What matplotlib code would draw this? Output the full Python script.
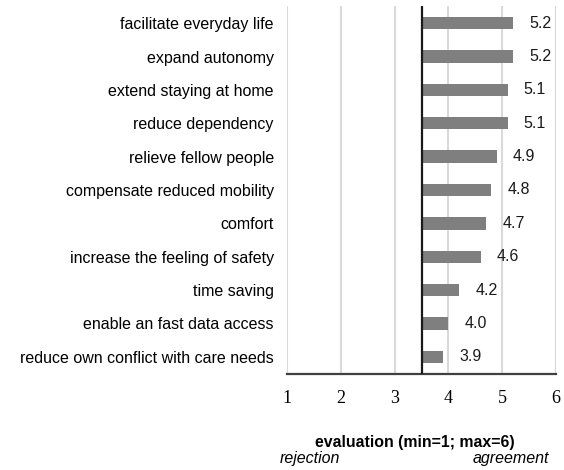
import matplotlib
matplotlib.use("Agg")
import matplotlib.pyplot as plt

# survey items, top to bottom
items = ["facilitate everyday life", "expand autonomy", "extend staying at home",
         "reduce dependency", "relieve fellow people", "compensate reduced mobility",
         "comfort", "increase the feeling of safety", "time saving",
         "enable an fast data access", "reduce own conflict with care needs"]
means = [5.2, 5.2, 5.1, 5.1, 4.9, 4.8, 4.7, 4.6, 4.2, 4.0, 3.9]
ticks = [1, 2, 3, 4, 5, 6]
center = 3.5

fig = plt.figure(figsize=(5.64, 4.70), dpi=100)
ax = fig.add_axes([0.5089, 0.2053, 0.4769, 0.7809])

ypos = list(range(len(items)))[::-1]
widths = [m - center for m in means]
ax.barh(ypos, widths, left=center, height=0.37, color="#7f7f7f", zorder=3)

for y, m in zip(ypos, means):
    ax.text(m + 0.3, y, f"{m:.1f}", va="center", ha="left",
            fontsize=11.5, family="Liberation Sans", color="#1a1a1a")

ax.set_xlim(1, 6)
ax.set_ylim(-0.5, len(items) - 0.5)
ax.set_xticks(ticks)
ax.set_xticklabels([str(t) for t in ticks], family="Liberation Serif", fontsize=13)
ax.set_yticks(ypos)
ax.set_yticklabels(items, family="Liberation Sans", fontsize=11.5)
ax.tick_params(axis="both", length=0)
ax.tick_params(axis="x", pad=12)
ax.tick_params(axis="y", pad=9.5)

for t in ticks:
    ax.axvline(t, color="#d9d9d9", lw=1.5, zorder=1)
ax.axvline(center, color="#1a1a1a", lw=1.6, zorder=4)

for s in ["top", "right", "left"]:
    ax.spines[s].set_visible(False)
ax.spines["bottom"].set_color("#404040")
ax.spines["bottom"].set_linewidth(1.6)

fig.text(415 / 564, 1 - 442 / 470, "evaluation (min=1; max=6)", ha="center", va="center",
         fontsize=11.4, fontweight="bold", family="Liberation Sans")
fig.text(280 / 564, 1 - 459 / 470, "rejection", ha="left", va="center",
         fontsize=11.5, style="italic", family="Liberation Sans")
fig.text(549 / 564, 1 - 459 / 470, "agreement", ha="right", va="center",
         fontsize=11.5, style="italic", family="Liberation Sans")

fig.savefig("out.png", dpi=100)
